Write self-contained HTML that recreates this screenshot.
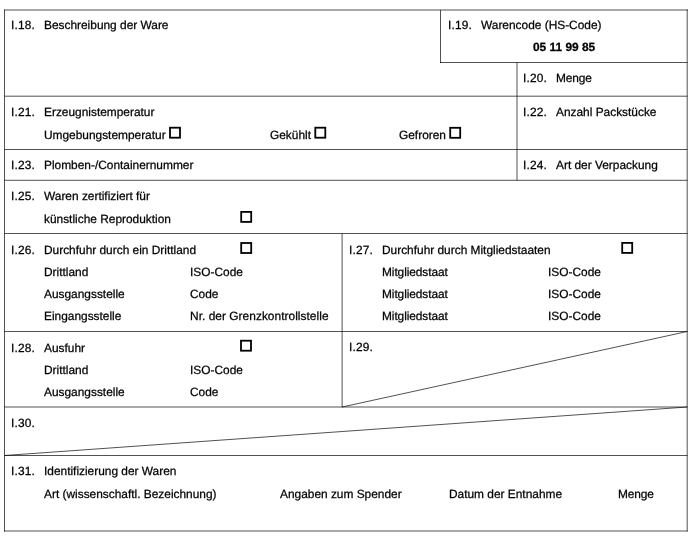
<!DOCTYPE html>
<html lang="de">
<head>
<meta charset="utf-8">
<title>Formular</title>
<style>
html,body{margin:0;padding:0;background:#fff;}
body{width:694px;height:540px;position:relative;overflow:hidden;font-family:"Liberation Sans",Arial,Helvetica,sans-serif;font-size:11.9px;color:#000;text-rendering:geometricPrecision;}
svg{position:absolute;left:0;top:0;}
.t{position:absolute;white-space:nowrap;line-height:14px;height:14px;will-change:transform;-webkit-text-stroke:0.25px #000;}
.b{font-weight:bold;}
</style>
</head>
<body>
<svg width="694" height="540" viewBox="0 0 694 540">
<g stroke="#000" stroke-opacity="0.68" stroke-width="1" fill="none">
<line x1="4" y1="10" x2="688" y2="10"/>
<line x1="4.5" y1="9.5" x2="4.5" y2="531.5"/>
<line x1="687.2" y1="9.5" x2="687.2" y2="531.5"/>
<line x1="4" y1="531" x2="687.7" y2="531"/>
<line x1="440.5" y1="10" x2="440.5" y2="63"/>
<line x1="440" y1="62.5" x2="687.5" y2="62.5"/>
<line x1="517" y1="62.5" x2="517" y2="180.5"/>
<line x1="4.5" y1="96.2" x2="687.5" y2="96.2"/>
<line x1="4.5" y1="149.5" x2="687.5" y2="149.5"/>
<line x1="4.5" y1="180.3" x2="687.5" y2="180.3"/>
<line x1="4.5" y1="233.5" x2="687.5" y2="233.5"/>
<line x1="342.1" y1="233.5" x2="342.1" y2="407.3"/>
<line x1="4.5" y1="331.5" x2="687.5" y2="331.5"/>
<line x1="4.5" y1="407" x2="687.5" y2="407"/>
<line x1="4.5" y1="455.5" x2="687.5" y2="455.5"/>
<line x1="342.1" y1="407" x2="687.2" y2="331.5"/>
<line x1="4.5" y1="455.5" x2="687.2" y2="407"/>
</g>
<g stroke="#000" stroke-width="1.8" fill="none">
<rect x="170" y="127.7" width="10" height="10"/>
<rect x="315.3" y="127.7" width="10" height="10"/>
<rect x="450.2" y="127.8" width="10" height="10"/>
<rect x="241.2" y="211.9" width="10" height="10"/>
<rect x="241.2" y="243" width="10" height="10"/>
<rect x="622.2" y="242.9" width="10" height="10"/>
<rect x="241" y="340.7" width="10" height="10"/>
</g>
</svg>
<div class="t" style="left:11.15px;top:18px;letter-spacing:0.18px">I.18.</div>
<div class="t" style="left:44px;top:18px">Beschreibung der Ware</div>
<div class="t" style="left:447.85px;top:18px;letter-spacing:0.18px">I.19.</div>
<div class="t" style="left:481px;top:18px">Warencode (HS-Code)</div>
<div class="t b" style="left:532.6px;top:40px">05 11 99 85</div>
<div class="t" style="left:523.15px;top:71px;letter-spacing:0.18px">I.20.</div>
<div class="t" style="left:556px;top:71px;letter-spacing:-0.15px">Menge</div>
<div class="t" style="left:11.15px;top:105px;letter-spacing:0.18px">I.21.</div>
<div class="t" style="left:44px;top:105px">Erzeugnistemperatur</div>
<div class="t" style="left:523.15px;top:105px;letter-spacing:0.18px">I.22.</div>
<div class="t" style="left:556px;top:105px">Anzahl Packstücke</div>
<div class="t" style="left:44px;top:128px">Umgebungstemperatur</div>
<div class="t" style="left:270px;top:128px">Gekühlt</div>
<div class="t" style="left:399px;top:128px">Gefroren</div>
<div class="t" style="left:11.15px;top:158px;letter-spacing:0.18px">I.23.</div>
<div class="t" style="left:44px;top:158px">Plomben-/Containernummer</div>
<div class="t" style="left:523.15px;top:158px;letter-spacing:0.18px">I.24.</div>
<div class="t" style="left:556px;top:158px">Art der Verpackung</div>
<div class="t" style="left:11.15px;top:189px;letter-spacing:0.18px">I.25.</div>
<div class="t" style="left:44px;top:189px">Waren zertifiziert für</div>
<div class="t" style="left:44px;top:212px">künstliche Reproduktion</div>
<div class="t" style="left:11.15px;top:243px;letter-spacing:0.18px">I.26.</div>
<div class="t" style="left:44px;top:243px">Durchfuhr durch ein Drittland</div>
<div class="t" style="left:44px;top:265px">Drittland</div>
<div class="t" style="left:190px;top:265px">ISO-Code</div>
<div class="t" style="left:44px;top:287px">Ausgangsstelle</div>
<div class="t" style="left:190px;top:287px">Code</div>
<div class="t" style="left:44px;top:309px">Eingangsstelle</div>
<div class="t" style="left:190px;top:309px;letter-spacing:0.04px">Nr. der Grenzkontrollstelle</div>
<div class="t" style="left:349.15px;top:243px;letter-spacing:0.18px">I.27.</div>
<div class="t" style="left:382px;top:243px">Durchfuhr durch Mitgliedstaaten</div>
<div class="t" style="left:382px;top:265px;letter-spacing:-0.08px">Mitgliedstaat</div>
<div class="t" style="left:548px;top:265px">ISO-Code</div>
<div class="t" style="left:382px;top:287px;letter-spacing:-0.08px">Mitgliedstaat</div>
<div class="t" style="left:548px;top:287px">ISO-Code</div>
<div class="t" style="left:382px;top:309px;letter-spacing:-0.08px">Mitgliedstaat</div>
<div class="t" style="left:548px;top:309px">ISO-Code</div>
<div class="t" style="left:11.15px;top:341px;letter-spacing:0.18px">I.28.</div>
<div class="t" style="left:44px;top:341px">Ausfuhr</div>
<div class="t" style="left:44px;top:363px">Drittland</div>
<div class="t" style="left:190px;top:363px">ISO-Code</div>
<div class="t" style="left:44px;top:385px">Ausgangsstelle</div>
<div class="t" style="left:190px;top:385px">Code</div>
<div class="t" style="left:349.15px;top:340px;letter-spacing:0.18px">I.29.</div>
<div class="t" style="left:11.15px;top:416px;letter-spacing:0.18px">I.30.</div>
<div class="t" style="left:11.15px;top:464px;letter-spacing:0.18px">I.31.</div>
<div class="t" style="left:44px;top:464px">Identifizierung der Waren</div>
<div class="t" style="left:44px;top:487px">Art (wissenschaftl. Bezeichnung)</div>
<div class="t" style="left:280px;top:487px">Angaben zum Spender</div>
<div class="t" style="left:449px;top:487px">Datum der Entnahme</div>
<div class="t" style="left:618px;top:487px;letter-spacing:-0.15px">Menge</div>
</body>
</html>
